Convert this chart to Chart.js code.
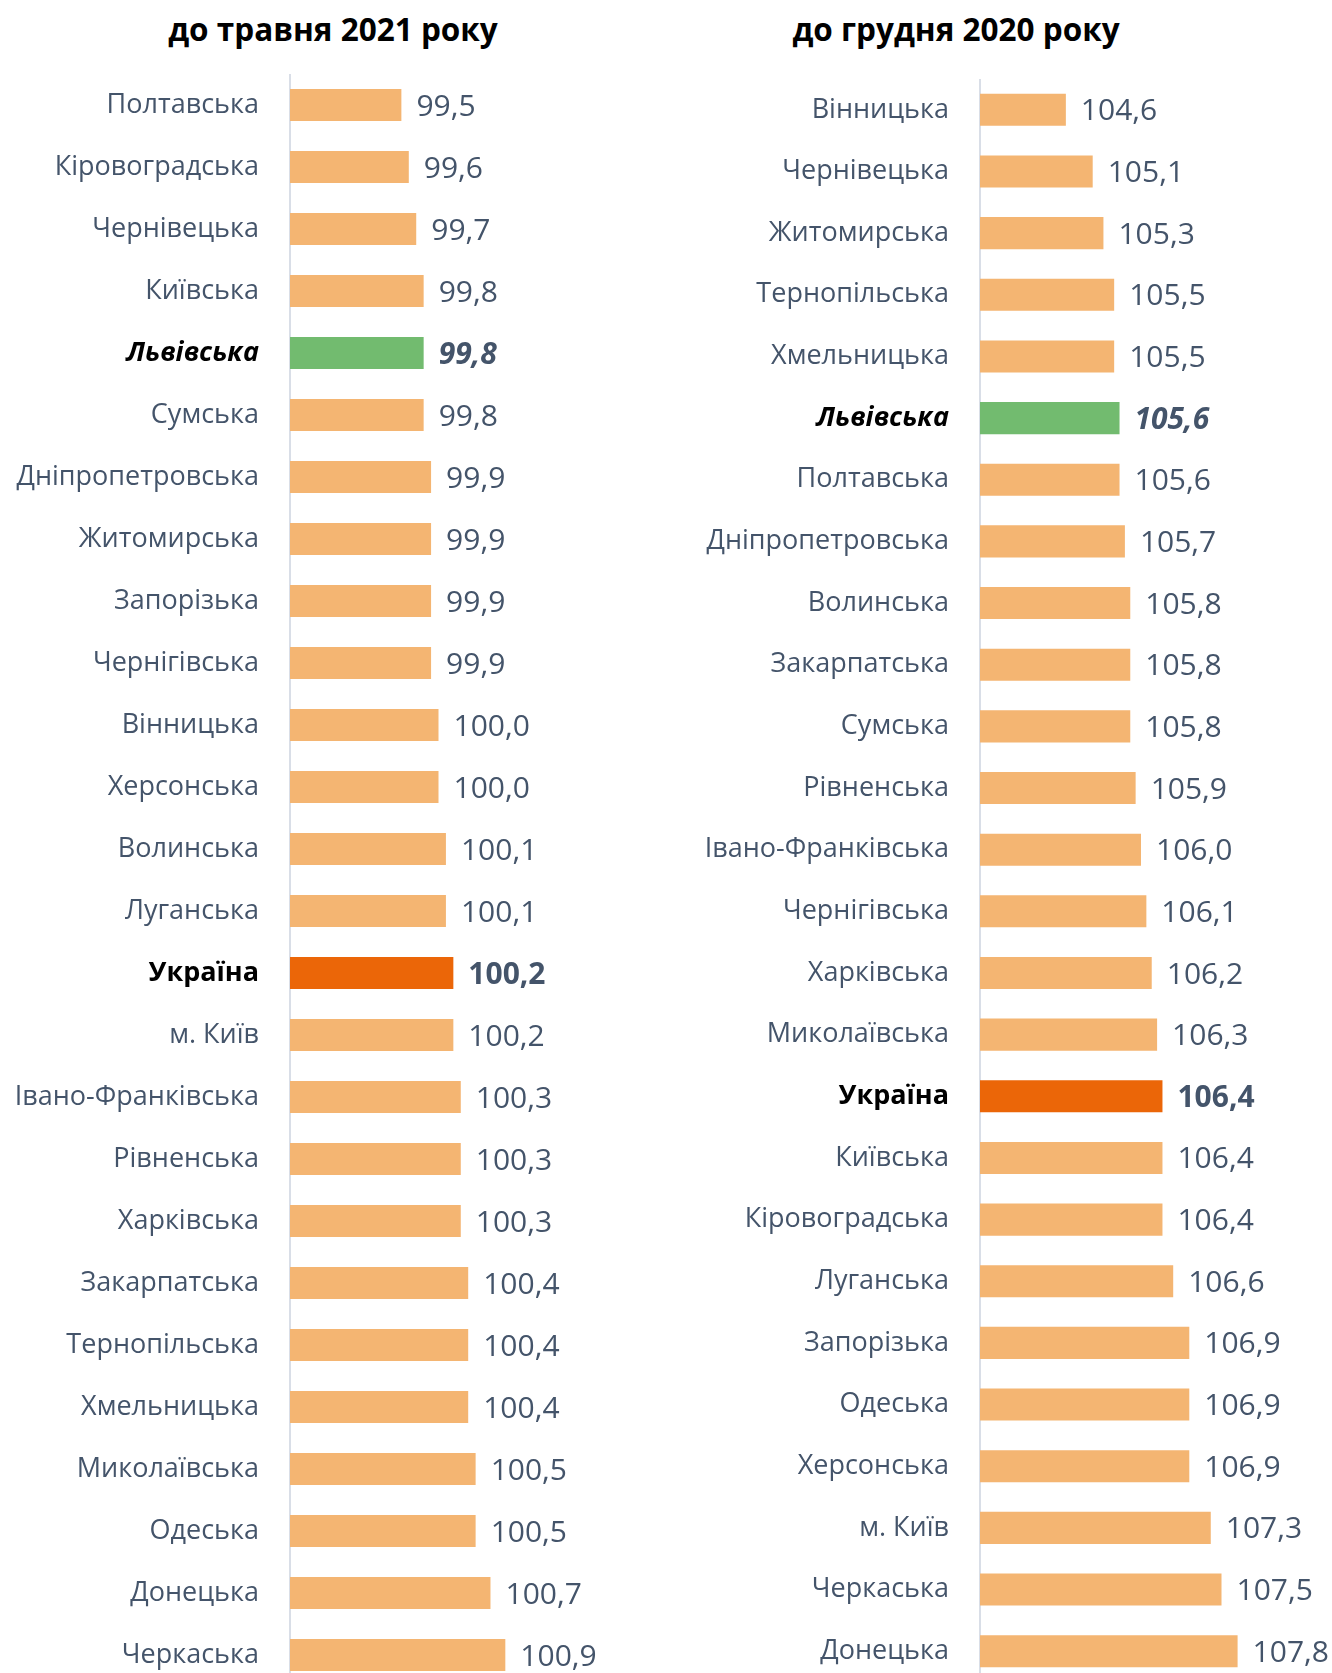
<!DOCTYPE html>
<html>
<head>
<meta charset="utf-8">
<script src="https://cdn.jsdelivr.net/npm/chart.js@4.4.0/dist/chart.umd.min.js"></script>
<style>
  html, body { margin: 0; padding: 0; background: #fff; }
  #wrap { position: relative; width: 1332px; height: 1673px; overflow: hidden; }
  canvas { position: absolute; }
  #c1 { left: 0; top: 74px; }
  #c2 { left: 650px; top: 79px; }
  .title {
    position: absolute; top: 8px; width: 400px; text-align: center;
    font-family: "Open Sans", sans-serif; font-weight: 700; font-size: 31.5px;
    color: #000; line-height: 42px;
  }
</style>
</head>
<body>
<div id="wrap">
  <div class="title" style="left:133px">до травня 2021 року</div>
  <div class="title" style="left:756px">до грудня 2020 року</div>
  <canvas id="c1" width="650" height="1612"></canvas>
  <canvas id="c2" width="682" height="1603"></canvas>
</div>
<script>
// до травня 2021 року
const regionsMay = [
  'Полтавська','Кіровоградська','Чернівецька','Київська','Львівська','Сумська',
  'Дніпропетровська','Житомирська','Запорізька','Чернігівська','Вінницька','Херсонська',
  'Волинська','Луганська','Україна','м. Київ','Івано-Франківська','Рівненська',
  'Харківська','Закарпатська','Тернопільська','Хмельницька','Миколаївська','Одеська',
  'Донецька','Черкаська'
];
const valuesMay = [
  99.5, 99.6, 99.7, 99.8, 99.8, 99.8,
  99.9, 99.9, 99.9, 99.9, 100.0, 100.0,
  100.1, 100.1, 100.2, 100.2, 100.3, 100.3,
  100.3, 100.4, 100.4, 100.4, 100.5, 100.5,
  100.7, 100.9
];

// до грудня 2020 року
const regionsDec = [
  'Вінницька','Чернівецька','Житомирська','Тернопільська','Хмельницька','Львівська',
  'Полтавська','Дніпропетровська','Волинська','Закарпатська','Сумська','Рівненська',
  'Івано-Франківська','Чернігівська','Харківська','Миколаївська','Україна','Київська',
  'Кіровоградська','Луганська','Запорізька','Одеська','Херсонська','м. Київ',
  'Черкаська','Донецька'
];
const valuesDec = [
  104.6, 105.1, 105.3, 105.5, 105.5, 105.6,
  105.6, 105.7, 105.8, 105.8, 105.8, 105.9,
  106.0, 106.1, 106.2, 106.3, 106.4, 106.4,
  106.4, 106.6, 106.9, 106.9, 106.9, 107.3,
  107.5, 107.8
];

const FONT = '"Open Sans", sans-serif';
const TEXT = '#44546A';

function barColor(name) {
  if (name === 'Львівська') return '#72BB6F';
  if (name === 'Україна') return '#EB6608';
  return '#F4B572';
}

function labelFont(name, size) {
  if (name === 'Львівська') return { family: FONT, size: size, weight: 'bold', style: 'italic' };
  if (name === 'Україна') return { family: FONT, size: size, weight: 'bold' };
  return { family: FONT, size: size };
}

const valueLabels = {
  id: 'valueLabels',
  afterDatasetsDraw(chart) {
    const ctx = chart.ctx;
    const meta = chart.getDatasetMeta(0);
    const names = chart.data.labels;
    const vals = chart.data.datasets[0].data;
    ctx.save();
    ctx.textBaseline = 'middle';
    ctx.textAlign = 'left';
    ctx.fillStyle = TEXT;
    meta.data.forEach((bar, i) => {
      const f = labelFont(names[i], 30);
      ctx.font = (f.style ? f.style + ' ' : '') + (f.weight || 'normal') + ' ' + f.size + 'px ' + f.family;
      ctx.fillText(vals[i].toFixed(1).replace('.', ','), bar.x + 15, bar.y + 2);
    });
    ctx.restore();
  }
};

function makeChart(id, labels, values, opts) {
  return new Chart(document.getElementById(id), {
    type: 'bar',
    data: {
      labels: labels,
      datasets: [{
        data: values,
        backgroundColor: labels.map(barColor),
        borderWidth: 0,
        barPercentage: 0.52,
        categoryPercentage: 1
      }]
    },
    plugins: [valueLabels],
    options: {
      indexAxis: 'y',
      responsive: false,
      animation: false,
      layout: { padding: { top: 0, right: opts.right, bottom: 0, left: 0 } },
      plugins: { legend: { display: false }, tooltip: { enabled: false }, title: { display: false } },
      scales: {
        x: { display: false, min: opts.min, max: opts.max },
        y: {
          afterFit: (scale) => {
            scale.width = opts.axisX;
            scale.paddingTop = 0;
            scale.paddingBottom = 0;
          },
          grid: { display: false, drawTicks: false },
          border: { display: true, color: '#D9DEE7', width: 2 },
          ticks: {
            padding: opts.pad,
            autoSkip: false,
            font: (c) => labelFont(labels[c.index], 27),
            color: (c) => (labels[c.index] === 'Львівська' || labels[c.index] === 'Україна') ? '#000' : TEXT
          }
        }
      }
    }
  });
}

makeChart('c1', regionsMay, valuesMay, { min: 98, max: 102, axisX: 290, pad: 31, right: 63 });
makeChart('c2', regionsDec, valuesDec, { min: 103, max: 109, axisX: 330, pad: 31, right: 30 });
</script>
</body>
</html>
